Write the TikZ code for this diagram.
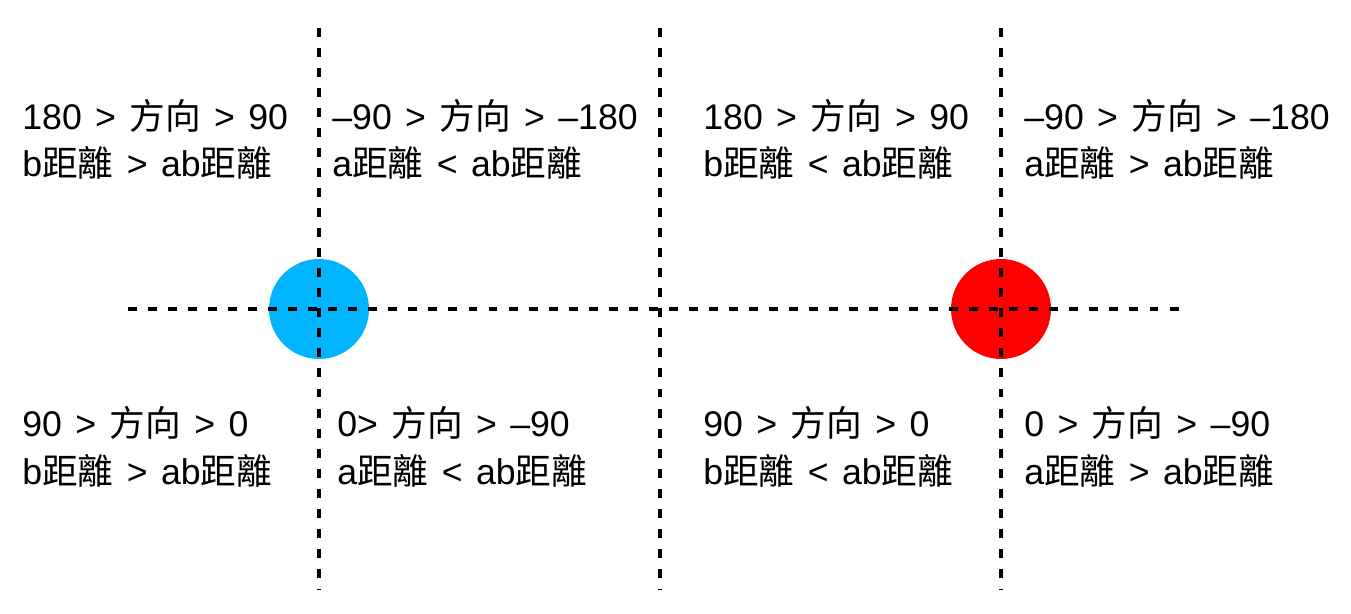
\documentclass[tikz,border=0pt]{standalone}
\usepackage{fontspec}
\setmainfont[WordSpace=1.35]{Liberation Sans}
\newfontfamily\cjk{Noto Sans CJK SC}
\usepackage{tikz}
\usetikzlibrary{backgrounds}
\definecolor{dotblue}{RGB}{0,180,255}
\definecolor{dotred}{RGB}{255,0,0}
\tikzset{
  guide/.style={line width=1.9pt, dash pattern=on 5.1pt off 6.3pt},
  dot/.style={circle, minimum size=2cm, inner sep=0pt},
  cell/.style={anchor=base west, align=left, inner sep=0pt,
    font=\fontsize{20.3}{27.3}\selectfont}
}
\begin{document}
\begin{tikzpicture}[x=0.02cm, y=-0.02cm]
\useasboundingbox[fill=white] (0,0) rectangle (1351,614);
\node[dot, fill=dotblue] (a) at (319,309) {};
\node[dot, fill=dotred] (b) at (1001,309) {};
\coordinate (left) at (128,309);
\coordinate (right) at (1180,309);
\draw[guide] (left) -- (right);
\foreach \x in {319,660,1001}
  \draw[guide] (\x,28) -- (\x,590);
\node[cell] (q1) at (22,177) {180 > {\cjk 方向} > 90\\b{\cjk 距離} > ab{\cjk 距離}};
\node[cell] (q2) at (332,177) {–90 > {\cjk 方向} > –180\\a{\cjk 距離} < ab{\cjk 距離}};
\node[cell] (q3) at (703,177) {180 > {\cjk 方向} > 90\\b{\cjk 距離} < ab{\cjk 距離}};
\node[cell] (q4) at (1024,177) {–90 > {\cjk 方向} > –180\\a{\cjk 距離} > ab{\cjk 距離}};
\node[cell] (q5) at (22,484) {90 > {\cjk 方向} > 0\\b{\cjk 距離} > ab{\cjk 距離}};
\node[cell] (q6) at (337,484) {0> {\cjk 方向} > –90\\a{\cjk 距離} < ab{\cjk 距離}};
\node[cell] (q7) at (703,484) {90 > {\cjk 方向} > 0\\b{\cjk 距離} < ab{\cjk 距離}};
\node[cell] (q8) at (1024,484) {0 > {\cjk 方向} > –90\\a{\cjk 距離} > ab{\cjk 距離}};
\end{tikzpicture}
\end{document}
